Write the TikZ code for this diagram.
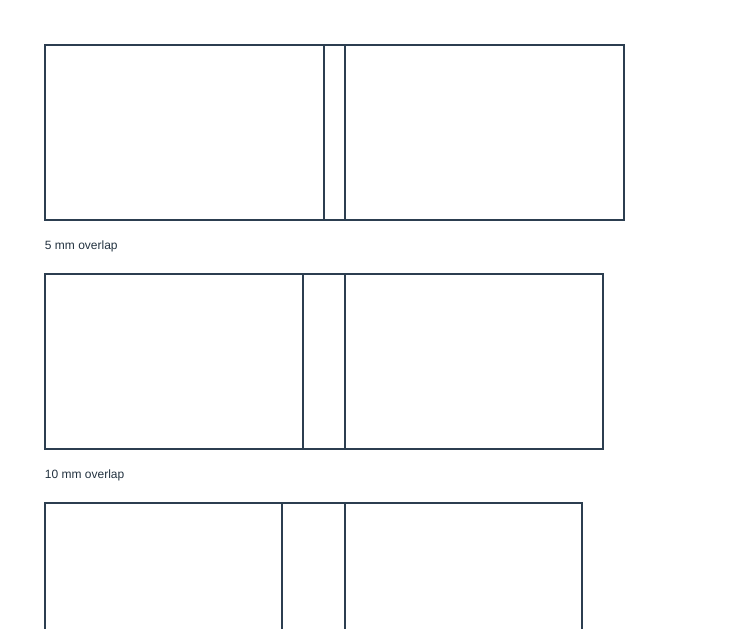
\documentclass[tikz,border=0pt]{standalone}
\usepackage{fontspec}
\setmainfont{Liberation Sans}
\usetikzlibrary{positioning}
\definecolor{edgeblue}{HTML}{2C3E50}
\tikzstyle{panelstyle}=[
    x=1pt, y=-1pt,
    every node/.style={inner sep=0pt, outer sep=0pt},
    panel/.style={
        draw=edgeblue,
        line width=1.4pt,
        minimum width=300pt,
        minimum height=175pt,
        anchor=north west,
    },
    caption/.style={
        anchor=west,
        text=edgeblue!80!black,
        font=\fontsize{12pt}{14pt}\selectfont,
    },
]

\begin{document}
\begin{tikzpicture}[panelstyle]
        \useasboundingbox (0,0) rectangle (756,629);
        \clip (0,0) rectangle (756,629);
        \node[panel] (leftA) at (45, 45) {};
        \node[panel] (rightA) at (324, 45) {};
        \node[caption] (capA) at (45, 246.5) {5 mm overlap};
        \node[panel] (leftB) at (45, 274) {};
        \node[panel] (rightB) at (303, 274) {};
        \node[caption] (capB) at (45, 475.5) {10 mm overlap};
        \node[panel] (leftC) at (45, 503) {};
        \node[panel] (rightC) at (282, 503) {};
    \end{tikzpicture}
\end{document}
